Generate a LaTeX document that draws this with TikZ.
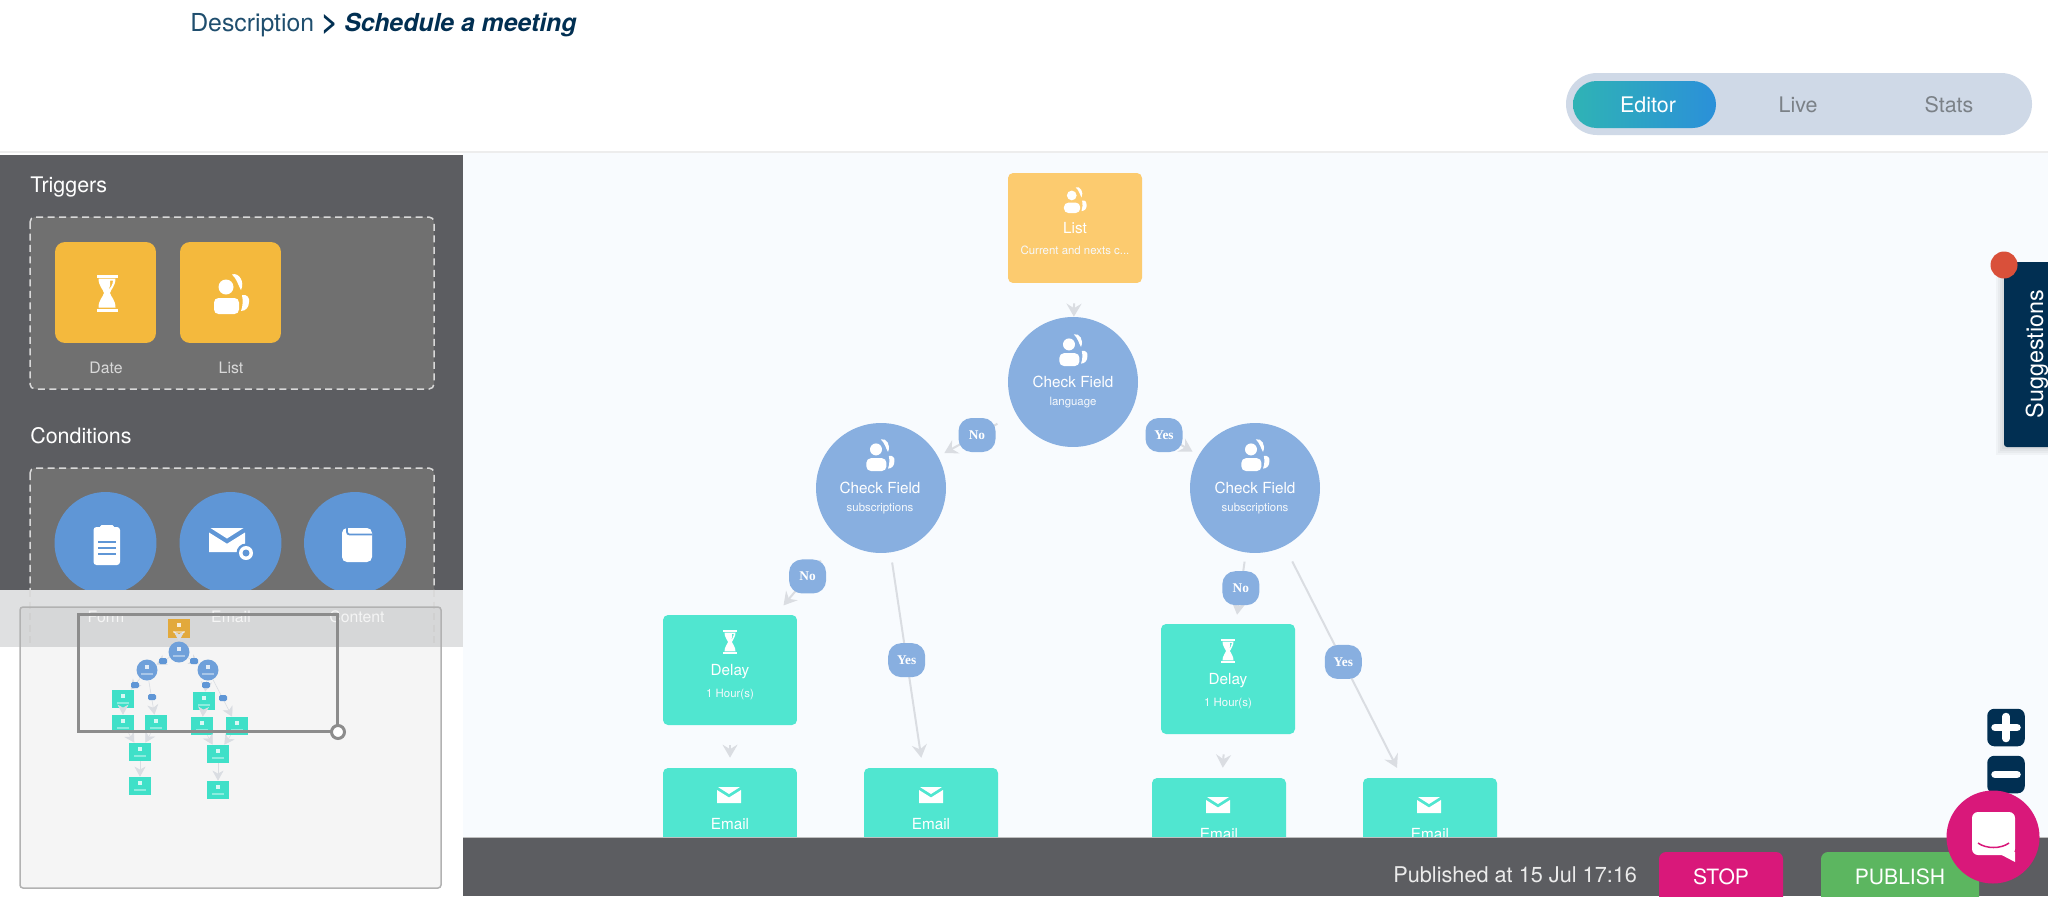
\documentclass[tikz,border=0pt]{standalone}
\usepackage{fontspec}
\setmainfont{TeX Gyre Heros}
\newfontfamily\labelfont{Liberation Serif}
\usetikzlibrary{arrows.meta}

\definecolor{sidegray}{HTML}{5C5D61}
\definecolor{dashgray}{HTML}{707070}
\definecolor{veilgray}{HTML}{DFE0E1}
\definecolor{canvasblue}{HTML}{F8FBFE}
\definecolor{navy}{HTML}{012F52}
\definecolor{triggeryellow}{HTML}{F4B93D}
\definecolor{listyellow}{HTML}{FCCB6F}
\definecolor{sideblue}{HTML}{5F96D6}
\definecolor{flowblue}{HTML}{88AFE0}
\definecolor{flowteal}{HTML}{50E6D0}
\definecolor{miniteal}{HTML}{3FE0C8}
\definecolor{miniyellow}{HTML}{E2A93C}
\definecolor{linegray}{HTML}{DADDE2}
\definecolor{tabblue}{HTML}{CFD9E7}
\definecolor{tabtext}{HTML}{7B8187}
\definecolor{tabstart}{HTML}{2FB3B5}
\definecolor{tabend}{HTML}{2B90D9}
\definecolor{stoppink}{HTML}{D9187A}
\definecolor{publishgreen}{HTML}{5CB660}
\definecolor{dotred}{HTML}{D9503A}
\definecolor{headblue}{HTML}{1F4E6E}

\tikzset{
        flowbox/.style={rectangle, rounded corners=.1cm, minimum width=2.68cm, minimum height=2.2cm, inner sep=0, fill=flowteal},
        flowcircle/.style={circle, minimum size=2.6cm, inner sep=0, fill=flowblue},
        sidebox/.style={rectangle, rounded corners=.2cm, minimum size=2.02cm, inner sep=0, fill=triggeryellow},
        sidecircle/.style={circle, minimum size=2.04cm, inner sep=0, fill=sideblue},
        answer/.style={rectangle, rounded corners=.26cm, minimum width=.74cm, minimum height=.68cm, inner sep=0, fill=flowblue, text=white, font=\labelfont\bfseries\fontsize{7.6}{8}\selectfont},
        flowline/.style={draw=linegray, line width=.04cm, -{Stealth[length=.26cm, width=.3cm, inset=.09cm]}},
        miniline/.style={draw=linegray, line width=.012cm, -{Stealth[length=.2cm, width=.22cm, inset=.06cm]}},
        title/.style={anchor=base, text=white, inner sep=0, font=\fontsize{8.7}{10}\selectfont},
        subtitle/.style={anchor=base, text=white!92!flowblue, inner sep=0, font=\fontsize{6.5}{8}\selectfont},
        sidehead/.style={anchor=base west, text=white, inner sep=0, font=\fontsize{12.2}{14}\selectfont},
        sidelabel/.style={anchor=base, text=white!85!black, inner sep=0, font=\fontsize{9}{10}\selectfont},
        tabtitle/.style={anchor=base, inner sep=0, font=\fontsize{12.2}{14}\selectfont},
        barbutton/.style={anchor=base, text=white, inner sep=0, font=\fontsize{12}{14}\selectfont},
        dashbox/.style={draw=white!85!black, dashed, line width=.03cm, dash pattern=on .14cm off .09cm},
        minibox/.style={rectangle, minimum width=.44cm, minimum height=.36cm, inner sep=0, fill=miniteal},
        minicircle/.style={circle, minimum size=.42cm, inner sep=0, fill=sideblue!90!white},
        minianswer/.style={rectangle, rounded corners=.03cm, minimum width=.16cm, minimum height=.12cm, inner sep=0, fill=sideblue},
        zoombutton/.style={rectangle, rounded corners=.14cm, minimum size=.75cm, inner sep=0, fill=navy},
        usersicon/.pic={
                \fill[white] (-5,-7) circle [radius=7.5];
                \fill[white] (1,-19.5) .. controls (8,-22) and (14,-12) .. (10,-4) .. controls (7,-9) and (6,-15) .. cycle;
                \fill[white, rounded corners=.09cm] (-17,4) rectangle (8,20);
                \fill[white] (11,1) .. controls (16,0) and (19,4) .. (18,8) .. controls (18,13) and (15,17) .. (10,17) .. controls (12,12) and (12,6) .. cycle;
        },
        sandicon/.pic={
                \fill[white] (-10.5,-18.5) rectangle (10.5,-15.5);
                \fill[white] (-10.5,15.5) rectangle (10.5,18.5);
                \fill[white, even odd rule] (-8.5,-14.5) -- (8.5,-14.5) .. controls (8.5,-7) and (4,-4) .. (3,0) .. controls (4,4) and (8.5,7) .. (8.5,14.5) -- (-8.5,14.5) .. controls (-8.5,7) and (-4,4) .. (-3,0) .. controls (-4,-4) and (-8.5,-7) .. cycle
                        (3,-12.5) -- (6,-12.5) .. controls (6,-8) and (3,-5) .. (1.5,-3) .. controls (3,-6) and (4,-9) .. cycle;
        },
        mailicon/.pic={
                \fill[white] (-11,-8) -- (11,-8) -- (0,-1) -- cycle;
                \fill[white] (-12,-5) -- (0,2.5) -- (12,-5) -- (12,8) -- (-12,8) -- cycle;
        }
}

\begin{document}
\begin{tikzpicture}[x=.02cm, y=-.02cm]
        \useasboundingbox (0,0) rectangle (2048,896);
        \fill[white] (0,0) rectangle (2048,896);
        \fill[canvasblue] (463,152) rectangle (2048,837);
        \draw[white!93!black, line width=.04cm] (0,152) -- (2048,152);

        \node[anchor=base west, inner sep=0, text=headblue, font=\fontsize{14.1}{16}\selectfont] (descr) at (190,31) {Description \textcolor{navy}{\textbf{\textit{{\fontsize{16}{16}\selectfont >} Schedule a meeting}}}};

        % tabs
        \fill[tabblue, rounded corners=.62cm] (1566,73) rectangle (2032,135);
        \shade[left color=tabstart, right color=tabend, rounded corners=.47cm] (1573,81) rectangle (1716,128);
        \node[tabtitle, text=white] (editor) at (1648,112) {Editor};
        \node[tabtitle, text=tabtext] (live) at (1798,112) {Live};
        \node[tabtitle, text=tabtext] (stats) at (1949,112) {Stats};

        % flow
        \node[flowbox, fill=listyellow] (list) at (1075,228) {};
        \node[flowcircle] (check) at (1073,382) {};
        \node[flowcircle] (checkno) at (881,488) {};
        \node[flowcircle] (checkyes) at (1255,488) {};
        \node[flowbox] (delayno) at (730,670) {};
        \node[flowbox] (mailno) at (730,823) {};
        \node[flowbox] (mailyes) at (931,823) {};
        \node[flowbox] (delayyes) at (1228,679) {};
        \node[flowbox] (mailnotwo) at (1219,833) {};
        \node[flowbox] (mailyestwo) at (1430,833) {};

        \draw[flowline, shorten <=.4cm] (list) -- (check);
        \draw[flowline, shorten <=.42cm, shorten >=.14cm] (check) -- node[answer] (ansno) {No} (checkno);
        \draw[flowline, shorten <=.42cm, shorten >=.14cm] (check) -- node[answer] (ansyes) {Yes} (checkyes);
        \draw[flowline, shorten <=.58cm, shorten >=.24cm] (checkno) -- node[answer] (ansnotwo) {No} (delayno);
        \draw[flowline, shorten <=.2cm, shorten >=.2cm] (checkno) -- node[answer] (ansyestwo) {Yes} (mailyes);
        \draw[flowline, shorten <=.18cm, shorten >=.18cm] (checkyes) -- node[answer] (ansnothree) {No} (delayyes);
        \draw[flowline, shorten <=.34cm, shorten >=.22cm] (checkyes) -- node[answer] (ansyesthree) {Yes} (mailyestwo);
        \draw[flowline, shorten <=.4cm, shorten >=.2cm] (delayno) -- (mailno);
        \draw[flowline, shorten <=.4cm, shorten >=.2cm] (delayyes) -- (mailnotwo);

        \pic[scale=.65] at (1075,200) {usersicon};
        \node[title] (listname) at (1075,233) {List};
        \node[subtitle] (listsub) at (1075,254) {Current and nexts c...};
        \pic[scale=.8] at (1073,350) {usersicon};
        \node[title] (checkname) at (1073,387) {Check Field};
        \node[subtitle] (checksub) at (1073,405) {language};
        \pic[scale=.8] at (880,455) {usersicon};
        \node[title] (checknoname) at (880,493) {Check Field};
        \node[subtitle] (checknosub) at (880,511) {subscriptions};
        \pic[scale=.8] at (1255,455) {usersicon};
        \node[title] (checkyesname) at (1255,493) {Check Field};
        \node[subtitle] (checkyessub) at (1255,511) {subscriptions};

        \pic[scale=.65] at (730,642) {sandicon};
        \node[title] (delaynoname) at (730,675) {Delay};
        \node[subtitle] (delaynosub) at (730,697) {1 Hour(s)};
        \pic[scale=.65] at (1228,651) {sandicon};
        \node[title] (delayyesname) at (1228,684) {Delay};
        \node[subtitle] (delayyessub) at (1228,706) {1 Hour(s)};

        \pic at (729,795) {mailicon};
        \node[title] (mailnoname) at (730,829) {Email};
        \pic at (931,795) {mailicon};
        \node[title] (mailyesname) at (931,829) {Email};
        \pic at (1218,805) {mailicon};
        \node[title] (mailnotwoname) at (1219,839) {Email};
        \pic at (1429,805) {mailicon};
        \node[title] (mailyestwoname) at (1430,839) {Email};

        % suggestions and zoom
        \foreach \s in {2,4,6,8}
                \fill[black, opacity=.03] (2004-\s,262) rectangle (2048,447+\s);
        \fill[navy, rounded corners=.06cm] (2004,262) rectangle (2060,447);
        \node[anchor=base, rotate=90, inner sep=0, text=white, font=\fontsize{13.3}{15}\selectfont] (suggest) at (2043,354) {Suggestions};
        \fill[dotred] (2004,265) circle [radius=13.5];
        \node[zoombutton] (zoomin) at (2006,727.5) {};
        \node[zoombutton] (zoomout) at (2006,774.5) {};
        \draw[white, line width=.15cm, line cap=round] (1995,727.5) -- (2017,727.5) (2006,716.5) -- (2006,738.5);
        \draw[white, line width=.15cm, line cap=round] (1995,774.5) -- (2017,774.5);

        % side panel
        \fill[sidegray] (0,155) rectangle (463,590);
        \node[sidehead] (triggers) at (30,192) {Triggers};
        \node[sidehead] (conditions) at (30,443) {Conditions};
        \draw[dashbox, fill=dashgray, rounded corners=.1cm] (30,217) rectangle (434,389);
        \draw[dashbox, fill=dashgray, rounded corners=.1cm] (30,468) rectangle (434,640);

        \node[sidebox] (date) at (105.5,292.5) {};
        \node[sidebox] (listbox) at (230.5,292.5) {};
        \pic at (107,293) {sandicon};
        \pic at (231,294) {usersicon};
        \node[sidelabel] (datename) at (106,373) {Date};
        \node[sidelabel] (listboxname) at (231,373) {List};

        \node[sidecircle] (form) at (105.5,543) {};
        \node[sidecircle] (email) at (230.5,543) {};
        \node[sidecircle] (content) at (355,543) {};
        \fill[white, rounded corners=.06cm] (93.5,527) rectangle (120,565);
        \fill[white, rounded corners=.03cm] (100,525) rectangle (114,530);
        \foreach \y in {542,548,554}
                \draw[sideblue, line width=.03cm] (98,\y) -- (116,\y);
        \pic[scale=1.5] at (227,540) {mailicon};
        \fill[sideblue] (246,553) circle [radius=9.5];
        \fill[white] (246,553) circle [radius=7];
        \fill[sideblue] (246,553) circle [radius=3.5];
        \fill[white, rounded corners=.1cm] (342,528) rectangle (372,562);
        \draw[sideblue, line width=.035cm, rounded corners=.05cm] (347,528) -- (347,534.5) -- (372,534.5);

        % minimap
        \fill[veilgray] (0,590) rectangle (463,647);
        \draw[dashbox] (30,590) -- (30,645) (434,590) -- (434,645);
        \node[sidelabel, text=white] (formname) at (106,622) {Form};
        \node[sidelabel, text=white] (emailname) at (231,622) {Email};
        \node[sidelabel, text=white] (contentname) at (357,622) {Content};
        \fill[black, opacity=.04, rounded corners=.06cm] (20,607) rectangle (441,888);
        \draw[black!30, line width=.03cm, rounded corners=.06cm] (20,607) rectangle (441,888);

        \node[rectangle, minimum width=.44cm, minimum height=.38cm, inner sep=0, fill=miniyellow] (minilist) at (179,628) {};
        \foreach \n/\x/\y in {check/179/652, checkno/147/670, checkyes/208/670}
                \node[minicircle] (mini\n) at (\x,\y) {};
        \foreach \n/\x/\y in {delayno/123/699, delayyes/204/701, mailno/123/724, mailyes/156/724, mailnotwo/202/726, mailyestwo/237/726, delaya/140/752, delayb/218/754, maila/140/786, mailb/218/790}
                \node[minibox] (mini\n) at (\x,\y) {};
        \foreach \a/\b in {list/check, check/checkno, check/checkyes, checkno/delayno, checkno/mailyes, checkyes/delayyes, checkyes/mailyestwo, delayno/mailno, delayyes/mailnotwo, mailno/delaya, mailyes/delaya, mailnotwo/delayb, mailyestwo/delayb, delaya/maila, delayb/mailb}
                \draw[miniline] (mini\a) -- (mini\b);
        \foreach \n/\x/\y in {a/163/661, b/194/661, c/135/685, d/152/697, e/206/685, f/223/698}
                \node[minianswer] (minians\n) at (\x,\y) {};
        \foreach \n in {list, check, checkno, checkyes, delayno, delayyes, mailno, mailyes, mailnotwo, mailyestwo, delaya, delayb, maila, mailb} {
                \fill[white, opacity=.8] ([xshift=-.04cm, yshift=.02cm]mini\n.center) rectangle ([xshift=.04cm, yshift=.1cm]mini\n.center);
                \fill[white, opacity=.4] ([xshift=-.12cm, yshift=-.1cm]mini\n.center) rectangle ([xshift=.12cm, yshift=-.06cm]mini\n.center);
        }

        \draw[black!45, line width=.06cm] (78,614) rectangle (337,731);
        \draw[black!45, fill=white, line width=.06cm] (338,732) circle [radius=6.5];

        % bottom bar
        \fill[sidegray] (463,837) rectangle (2048,896);
        \draw[white!75!black, line width=.02cm] (463,837) -- (2048,837);
        \node[anchor=base west, inner sep=0, text=white!92!black, font=\fontsize{12.35}{14}\selectfont] (published) at (1393,882) {Published at 15 Jul 17:16};
        \fill[stoppink, rounded corners=.14cm] (1659,852) rectangle (1783,910);
        \node[barbutton] (stop) at (1721,884) {STOP};
        \fill[publishgreen, rounded corners=.14cm] (1821,852) rectangle (1979,910);
        \node[barbutton] (publish) at (1900,884) {PUBLISH};

        % chat
        \fill[stoppink] (1993,837) circle [radius=46.5];
        \fill[white, rounded corners=.12cm] (1972,812) rectangle (2015,855);
        \fill[white] (1996,852) -- (2015,852) -- (2015,862) -- cycle;
        \draw[stoppink, line width=.03cm] (1978,843) .. controls (1986,849) and (2001,849) .. (2009,843);
\end{tikzpicture}
\end{document}
